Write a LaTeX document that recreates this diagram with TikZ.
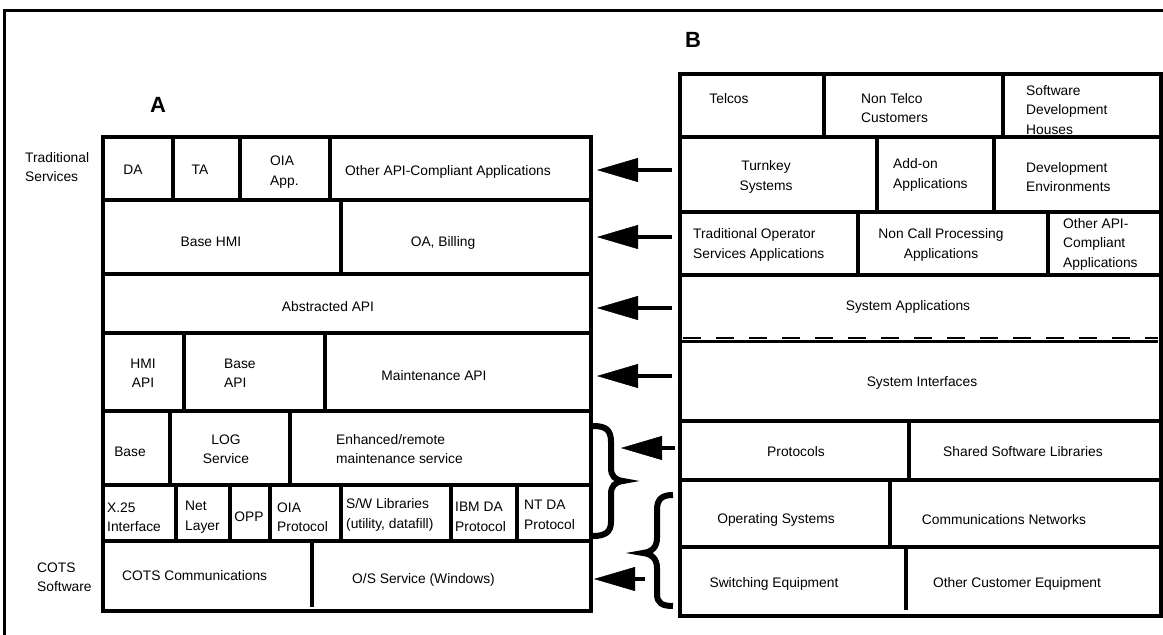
\documentclass[tikz,border=0pt]{standalone}
\usepackage{fontspec}
\setmainfont{Liberation Sans}
\usetikzlibrary{arrows.meta}
\tikzset{
  frame/.style={line width=3pt},
  box/.style={line width=4pt},
  div/.style={line width=3.8pt},
  lbl/.style={inner sep=0pt, font=\fontsize{13.8}{19.5}\selectfont, align=center},
  lbll/.style={lbl, align=left, anchor=west},
  big/.style={inner sep=0pt, font=\bfseries\fontsize{22}{22}\selectfont},
  arr/.style={line width=4pt, -{Triangle[length=41pt,width=24pt,line width=0.5pt]}},
  brace/.style={line width=6pt, line cap=butt},
  dashline/.style={line width=2.2pt, dash pattern=on 18pt off 15pt},
}
\begin{document}
\begin{tikzpicture}[x=1pt,y=-1pt]
\useasboundingbox (0,0) rectangle (1163,635);
\clip (0,0) rectangle (1163,635);
% outer frame (cropped at right and bottom)
\draw[frame] (4.5,700) -- (4.5,10.5) -- (1200,10.5);

% ---------- left stack A ----------
\draw[box] (103,137) rectangle (591,611);
\foreach \y in {200,274,333,411,485,541} \draw[div] (103,\y) -- (591,\y);
\foreach \x in {173,240,330} \draw[div] (\x,137) -- (\x,200);
\draw[div] (341,200) -- (341,274);
\foreach \x in {184,325} \draw[div] (\x,333) -- (\x,411);
\foreach \x in {170,290} \draw[div] (\x,411) -- (\x,485);
\foreach \x in {176,230,270,341,451,517} \draw[div] (\x,485) -- (\x,541);
\draw[div] (312,541) -- (312,607);

\node[big] (A) at (158,105) {A};
\node[lbll] (trad) at (25,167) {Traditional\\Services};
\node[lbll] (cots) at (37,577) {COTS\\Software};

\node[lbl] (da) at (133,170) {DA};
\node[lbl] (ta) at (200,170) {TA};
\node[lbll] (oia) at (270,172) {OIA\\App.};
\node[lbl] (other) at (448,172) {Other API-Compliant Applications};
\node[lbl] (bhmi) at (211,242) {Base HMI};
\node[lbl] (oab) at (443,243) {OA, Billing};
\node[lbl] (abs) at (328,307) {Abstracted API};
\node[lbl] (hmiapi) at (143,373) {HMI\\API};
\node[lbll] (bapi) at (224,373) {Base\\API};
\node[lbl] (mapi) at (434,376) {Maintenance API};
\node[lbl] (base) at (130,452) {Base};
\node[lbl] (log) at (226,449) {LOG\\Service};
\node[lbll] (enh) at (336,449) {Enhanced/remote\\maintenance service};
\node[lbll] (x25) at (107,517) {X.25\\Interface};
\node[lbll] (net) at (185,517) {Net\\Layer};
\node[lbl] (opp) at (249,517) {OPP};
\node[lbll] (oiap) at (277,517) {OIA\\Protocol};
\node[lbll] (swl) at (346,515) {S/W Libraries\\(utility, datafill)};
\node[lbll] (ibm) at (455,517) {IBM DA\\Protocol};
\node[lbll] (ntda) at (524,515) {NT DA\\Protocol};
\node[lbll] (cotsc) at (122,576) {COTS Communications};
\node[lbll] (oss) at (352,580) {O/S Service (Windows)};

% ---------- right stack B ----------
\draw[box] (680,74) rectangle (1161,616);
\foreach \y in {137,212,275,421,480,547} \draw[div] (680,\y) -- (1161,\y);
\draw[dashline] (683,338) -- (1158,338);
\draw[line width=3.4pt] (680,341.5) -- (1158,341.5);
\foreach \x in {824,1003} \draw[div] (\x,74) -- (\x,137);
\foreach \x in {877,994} \draw[div] (\x,137) -- (\x,212);
\foreach \x in {858,1048} \draw[div] (\x,212) -- (\x,275);
\draw[div] (909,421) -- (909,480);
\draw[div] (890,480) -- (890,547);
\draw[div] (906,547) -- (906,610);

\node[big] (B) at (693,40) {B};
\node[lbl] (telcos) at (729,99) {Telcos};
\node[lbll] (ntc) at (861,108) {Non Telco\\Customers};
\node[lbll] (sdh) at (1026,110) {Software\\Development\\Houses};
\node[lbl] (turn) at (766,177) {Turnkey\\Systems};
\node[lbll] (addon) at (893,175) {Add-on\\Applications};
\node[lbll] (deve) at (1026,177) {Development\\Environments};
\node[lbll] (tosa) at (693,245) {Traditional Operator\\Services Applications};
\node[lbl] (ncp) at (941,245) {Non Call Processing\\Applications};
\node[lbll] (oapi) at (1063,244) {Other API-\\Compliant\\Applications};
\node[lbl] (sysapp) at (908,307) {System Applications};
\node[lbl] (sysif) at (922,383) {System Interfaces};
\node[lbl] (proto) at (796,452) {Protocols};
\node[lbl] (ssl) at (1023,452) {Shared Software Libraries};
\node[lbl] (os) at (776,520) {Operating Systems};
\node[lbl] (cn) at (1004,520) {Communications Networks};
\node[lbl] (sw) at (774,584) {Switching Equipment};
\node[lbl] (oce) at (1017,584) {Other Customer Equipment};

% ---------- arrows ----------
\coordinate (t1) at (672,170); \coordinate (h1) at (597,170);
\coordinate (t2) at (672,237); \coordinate (h2) at (597,237);
\coordinate (t3) at (672,308); \coordinate (h3) at (597,308);
\coordinate (t4) at (672,376); \coordinate (h4) at (597,376);
\coordinate (t5) at (675,448); \coordinate (h5) at (621,448);
\coordinate (t6) at (645,579); \coordinate (h6) at (594,579);
\foreach \i in {1,...,6} \draw[arr] (t\i) -- (h\i);

% ---------- braces ----------
\draw[brace] (593,426) .. controls (606,426) and (611,430) .. (611,442)
  -- (611,468) .. controls (611,476) and (615,480) .. (623,481)
  .. controls (615,482) and (611,486) .. (611,494)
  -- (611,522) .. controls (611,532) and (605,536) .. (593,536);
\draw[brace] (673,495) .. controls (662,495) and (657,499) .. (657,510)
  -- (657,538) .. controls (657,547) and (652,552) .. (643,553)
  .. controls (652,554) and (657,559) .. (657,568)
  -- (657,594) .. controls (657,603) and (662,606) .. (673,606);
\end{tikzpicture}
\end{document}
